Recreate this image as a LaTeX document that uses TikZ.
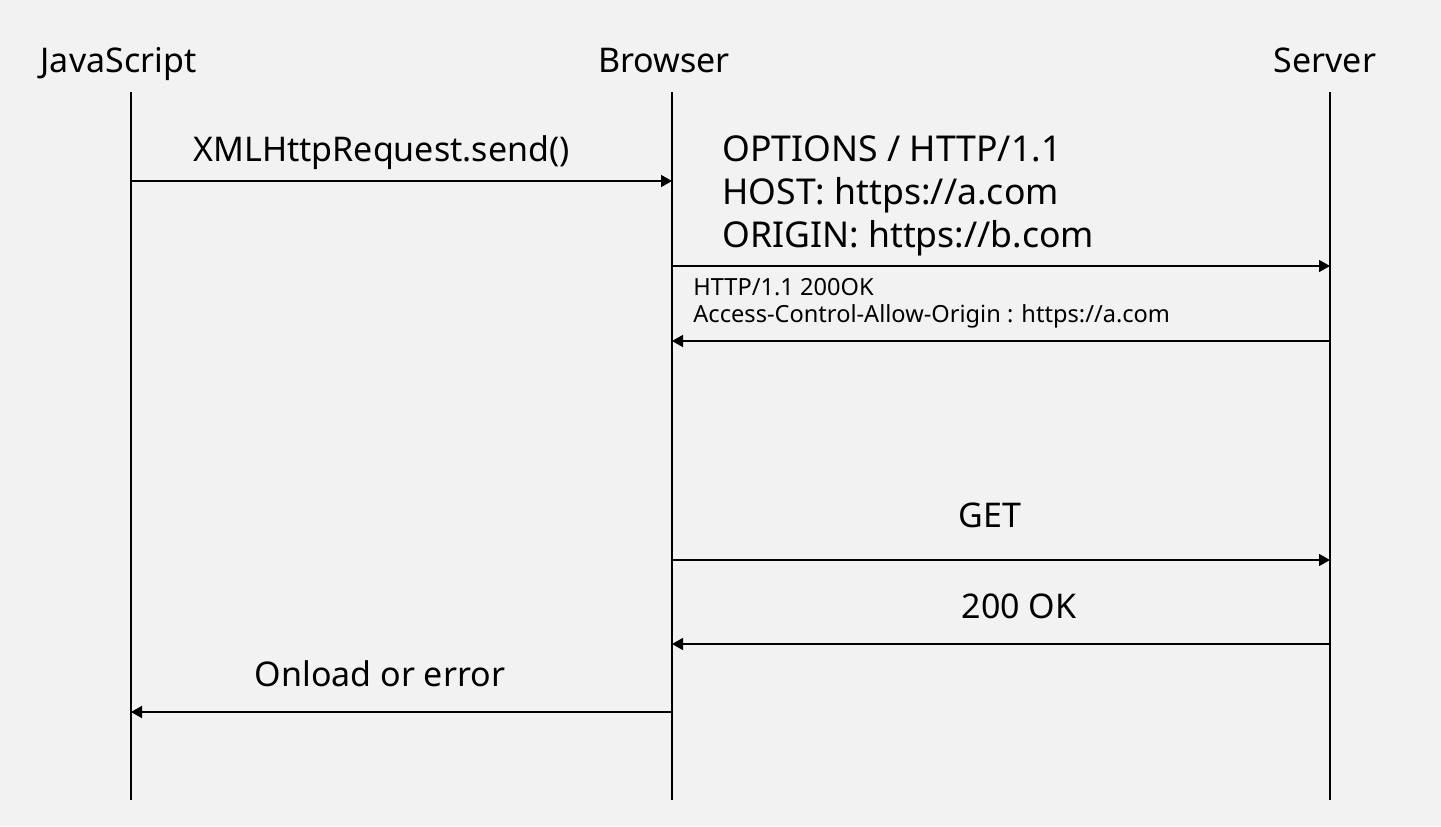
\documentclass[tikz,border=0pt]{standalone}
\usepackage{fontspec}
\setmainfont{Noto Sans}
\usetikzlibrary{arrows.meta,positioning}

\definecolor{paper}{HTML}{F2F2F2}

\begin{document}
\begin{tikzpicture}[
    % GLOBAL CFG
    x=0.5pt,
    y=-0.5pt,
    >={Triangle[length=5.5pt,width=6pt]},
    % Styles
    actor/.style={% For the names on top
        font=\fontsize{17}{20}\selectfont,
        inner sep=0pt,
        anchor=base,
        },
    lifeline/.style={% Vertical lines
        line width=0.75pt,
        },
    msg/.style={% Messages between lifelines
        ->,
        line width=0.75pt,
        },
    biglabel/.style={% Labels above messages
        font=\fontsize{17}{21.5}\selectfont,
        inner sep=0pt,
        anchor=base,
        },
    smalllabel/.style={% Small labels
        font=\fontsize{11.8}{13.5}\selectfont,
        inner sep=0pt,
        align=left,
        anchor=base west,
        },
    ]

    % Background
    \fill [paper] (0,0) rectangle (1441,826);

    % Draw actors named js, br, sv
    \node [actor] (js) at (118.5,72) {JavaScript};
    \node [actor] (br) at (664,72) {Browser};
    \node [actor] (sv) at (1325,72) {Server};

    % Lifelines top and bottom
    \coordinate (jsTop) at (131,92);
    \coordinate (brTop) at (672,92);
    \coordinate (svTop) at (1330,92);
    \coordinate (jsEnd) at (131,800);
    \coordinate (brEnd) at (672,800);
    \coordinate (svEnd) at (1330,800);
    \draw [lifeline] (jsTop) -- (jsEnd);
    \draw [lifeline] (brTop) -- (brEnd);
    \draw [lifeline] (svTop) -- (svEnd);

    % Levels of the messages named m#
    \coordinate (m1) at (0,181);
    \coordinate (m2) at (0,266);
    \coordinate (m3) at (0,341);
    \coordinate (m4) at (0,560);
    \coordinate (m5) at (0,644);
    \coordinate (m6) at (0,712);

    % Messages
    \draw [msg] (jsTop |- m1) -- (brTop |- m1);
    \draw [msg] (brTop |- m2) -- (svTop |- m2);
    \draw [msg] (svTop |- m3) -- (brTop |- m3);
    \draw [msg] (brTop |- m4) -- (svTop |- m4);
    \draw [msg] (svTop |- m5) -- (brTop |- m5);
    \draw [msg] (brTop |- m6) -- (jsTop |- m6);

    % Labels named l# (base of a block is its last line)
    \node [biglabel] (l1) at (381.5,161) {XMLHttpRequest.send()};
    \node [biglabel, font=\fontsize{17.8}{21.5}\selectfont, align=left, anchor=base west] (l2) at (722,247)
        {OPTIONS / HTTP/1.1\\HOST: https://a.com\\ORIGIN: https://b.com};
    \node [smalllabel] (l3) at (693,322)
        {HTTP/1.1 200OK\\Access-Control-Allow-Origin : https://a.com};
    \node [biglabel] (l4) at (990,527) {GET};
    \node [biglabel] (l5) at (1019,618) {200 OK};
    \node [biglabel] (l6) at (380,686) {Onload or error};

\end{tikzpicture}
\end{document}
